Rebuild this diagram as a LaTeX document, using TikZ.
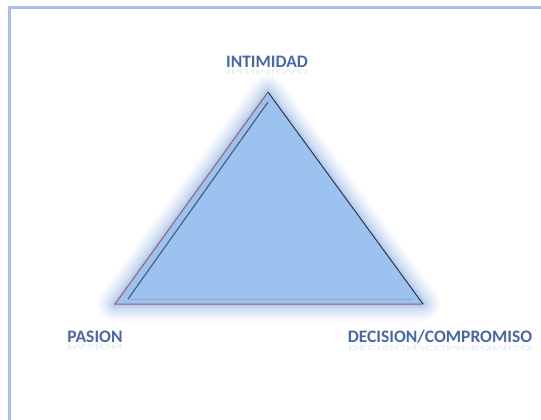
\documentclass[tikz,border=0pt]{standalone}
\usepackage{fontspec}
\setmainfont{Carlito}
\usepackage{tikz}
\usetikzlibrary{positioning,calc}

\definecolor{framecol}{HTML}{A7C0EA}
\definecolor{trifill}{HTML}{9CC2F0}
\definecolor{glowcol}{HTML}{6E9BDB}
\definecolor{labelcol}{HTML}{4767A6}
\definecolor{edgered}{HTML}{A05A6A}
\definecolor{edgedark}{HTML}{2C3550}

\begin{document}
\begin{tikzpicture}[
    x=1pt, y=-1pt,
    vertex label/.style={font=\bfseries\fontsize{17.5}{20}\selectfont, text=labelcol, inner sep=0pt},
    mirror/.style={vertex label, yscale=-0.45, opacity=0.1},
    edge/.style={line width=1pt, line join=miter}
]
\useasboundingbox (0,0) rectangle (541,420);

% Frame
\draw[framecol, line width=2.5pt] (9.5,420) -- (9.5,7.5) -- (541,7.5);

% Corners of the triangle
\coordinate (top)   at (268,92);
\coordinate (left)  at (115,304);
\coordinate (right) at (423,304);

% Glow
\foreach \w/\o in {34/0.05, 29/0.06, 24/0.07, 19/0.08, 14/0.1, 9/0.12, 5/0.15} {
  \draw[glowcol, line width=\w pt, line join=round, opacity=\o] (top) -- (left) -- (right) -- cycle;
}

% Triangle
\fill[trifill] (top) -- (left) -- (right) -- cycle;
\draw[edgered, edge] (right) -- (left) -- (top);
\draw[edgedark, edge] (top) -- (right);
\draw[edgedark!70!trifill, line width=1.2pt] ($(top)+(0,10)$) -- (128,299);
\draw[trifill!60!gray, line width=0.8pt] (128,299) -- (414,299);

% Labels
\node[vertex label] (intimidad) at (267,62) {INTIMIDAD};
\node[vertex label] (pasion)    at (95,337) {PASION};
\node[vertex label] (decision)  at (440,337) {DECISION/COMPROMISO};

% Reflections
\node[mirror] at ($(intimidad.south)+(0,4)$) {INTIMIDAD};
\node[mirror] at ($(pasion.south)+(0,4)$)    {PASION};
\node[mirror] at ($(decision.south)+(0,4)$)  {DECISION/COMPROMISO};

\end{tikzpicture}
\end{document}
